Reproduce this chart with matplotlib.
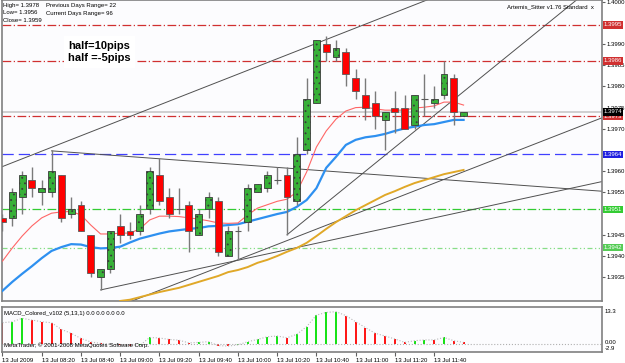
import matplotlib
matplotlib.use("Agg")
import matplotlib.pyplot as plt
import matplotlib.transforms as mtrans
import numpy as np

# EURUSD M5, 13 Jul 2009 08:00 - 11:55
opens = [1.3949, 1.3949, 1.3954, 1.3958, 1.3955, 1.3955, 1.3959, 1.3950, 1.3952, 1.3945,
         1.3935, 1.3937, 1.3947, 1.3946, 1.3946, 1.3951, 1.3959, 1.3954, 1.3951, 1.3952,
         1.3945, 1.3951, 1.3953, 1.3940, 1.3946, 1.3948, 1.3955, 1.3956, 1.3958, 1.3959,
         1.3953, 1.3965, 1.3976, 1.3990, 1.3987, 1.3988, 1.3982, 1.3978, 1.3976, 1.3972,
         1.3975, 1.3975, 1.3971, 1.3977, 1.3976, 1.3978, 1.3982, 1.3973]
highs = [1.3950, 1.3956, 1.3960, 1.3961, 1.3958, 1.3965, 1.3959, 1.3954, 1.3953, 1.3945,
         1.3937, 1.3946, 1.3950, 1.3948, 1.3952, 1.3961, 1.3963, 1.3956, 1.3956, 1.3953,
         1.3951, 1.3955, 1.3954, 1.3947, 1.3947, 1.3957, 1.3957, 1.3960, 1.3961, 1.3961,
         1.3968, 1.3982, 1.3991, 1.3992, 1.3991, 1.3989, 1.3984, 1.3982, 1.3979, 1.3974,
         1.3979, 1.3978, 1.3978, 1.3983, 1.3980, 1.3986, 1.3983, 1.3974]
lows = [1.3946, 1.3947, 1.3950, 1.3954, 1.3952, 1.3954, 1.3948, 1.3949, 1.3946, 1.3935,
        1.3932, 1.3936, 1.3943, 1.3944, 1.3945, 1.3950, 1.3952, 1.3949, 1.3950, 1.3941,
        1.3945, 1.3949, 1.3940, 1.3940, 1.3939, 1.3946, 1.3955, 1.3955, 1.3957, 1.3945,
        1.3952, 1.3964, 1.3976, 1.3986, 1.3986, 1.3980, 1.3977, 1.3972, 1.3970, 1.3965,
        1.3969, 1.3970, 1.3970, 1.3973, 1.3975, 1.3977, 1.3971, 1.3973]
closes = [1.3948, 1.3955, 1.3959, 1.3956, 1.3956, 1.3960, 1.3949, 1.3951, 1.3946, 1.3936,
          1.3937, 1.3946, 1.3945, 1.3945, 1.3950, 1.3960, 1.3953, 1.3950, 1.3951, 1.3946,
          1.3950, 1.3954, 1.3941, 1.3946, 1.3946, 1.3956, 1.3957, 1.3959, 1.3958, 1.3954,
          1.3964, 1.3977, 1.3991, 1.3988, 1.3989, 1.3983, 1.3979, 1.3975, 1.3973, 1.3974,
          1.3974, 1.3970, 1.3978, 1.3977, 1.3977, 1.3983, 1.3974, 1.3974]

# moving averages as drawn on the chart
ma_red = [1.39388, 1.39419, 1.39447, 1.39471, 1.39490, 1.39501, 1.39504, 1.39505, 1.39497, 1.39473,
          1.39452, 1.39452, 1.39454, 1.39454, 1.39464, 1.39485, 1.39494, 1.39494, 1.39493, 1.39490,
          1.39487, 1.39483, 1.39478, 1.39477, 1.39478, 1.39497, 1.39513, 1.39521, 1.39529, 1.39534,
          1.39551, 1.39598, 1.39657, 1.39695, 1.39723, 1.39742, 1.39750, 1.39751, 1.39747, 1.39744,
          1.39744, 1.39744, 1.39749, 1.39751, 1.39754, 1.39763, 1.39763, 1.39756]
ma_blue = [1.39318, 1.39339, 1.39358, 1.39376, 1.39395, 1.39412, 1.39421, 1.39428, 1.39427, 1.39421,
           1.39418, 1.39419, 1.39422, 1.39432, 1.39441, 1.39447, 1.39453, 1.39458, 1.39461, 1.39464,
           1.39466, 1.39470, 1.39471, 1.39473, 1.39475, 1.39481, 1.39487, 1.39493, 1.39499, 1.39504,
           1.39516, 1.39532, 1.39560, 1.39608, 1.39634, 1.39662, 1.39674, 1.39680, 1.39683, 1.39688,
           1.39695, 1.39701, 1.39705, 1.39709, 1.39711, 1.39716, 1.39721, 1.39721]
ma_orange = [np.nan] * 12 + [
             1.39294, 1.39297, 1.39303, 1.39309, 1.39315, 1.39320, 1.39325, 1.39332,
             1.39339, 1.39346, 1.39353, 1.39362, 1.39367, 1.39374, 1.39384, 1.39391, 1.39400, 1.39410,
             1.39419, 1.39431, 1.39447, 1.39464, 1.39480, 1.39494, 1.39508, 1.39520, 1.39532, 1.39544,
             1.39553, 1.39563, 1.39572, 1.39579, 1.39586, 1.39593, 1.39598, 1.39603]

macd_hist = [8.8, 9.2, 10.6, 9.9, 9.2, 8.8, 6.1, 4.5, 2.4, 1.0,
             0.4, 0.2, -0.3, -0.6, -0.4, 2.8, 2.6, 2.0, 1.7, 0.6,
             0.8, 1.1, -0.5, -0.7, -0.2, 1.1, 2.0, 3.1, 3.4, 2.7,
             4.1, 7.2, 11.9, 13.0, 13.3, 11.7, 9.2, 6.8, 4.5, 3.4,
             2.2, 0.8, 1.5, 1.8, 1.8, 2.8, 1.5, 0.8]

label_bars = [0, 4, 8, 12, 16, 20, 24, 28, 32, 36, 40, 44]
time_labels = ["13 Jul 2009", "13 Jul 08:20", "13 Jul 08:40", "13 Jul 09:00", "13 Jul 09:20",
               "13 Jul 09:40", "13 Jul 10:00", "13 Jul 10:20", "13 Jul 10:40", "13 Jul 11:00",
               "13 Jul 11:20", "13 Jul 11:40"]

# price scale labels that are not hidden behind level boxes
price_ticks = [1.4000, 1.3990, 1.3985, 1.3980, 1.3975, 1.3970, 1.3960, 1.3955,
               1.3945, 1.3940, 1.3935]

# horizontal levels
level_prices = [1.39945, 1.3986, 1.3973, 1.3964, 1.3951, 1.3942]
level_texts = ["1.3995", "1.3986", "1.3973", "1.3964", "1.3951", "1.3942"]
bid_price = 1.3974

# trend lines: (bar, price) anchors
trend_a = [(0, 1.39611), (38, 1.39956)]
trend_b = [(29, 1.3945), (46, 1.39769)]
trend_c = [(5, 1.39648), (61, 1.39553)]
trend_d = [(10, 1.39320), (24, 1.39390)]
trend_e = [(13, 1.39292), (61, 1.39725)]

W, H = 625, 363
plt.rcParams['font.family'] = ['Liberation Sans', 'DejaVu Sans']
plt.rcParams['hatch.color'] = "#c8f5c8"
plt.rcParams['hatch.linewidth'] = 0.6
fig = plt.figure(figsize=(W / 100, H / 100), dpi=100)
fig.patch.set_facecolor("white")

def frac(x0, y0, x1, y1):
    return [x0 / W, 1 - y1 / H, (x1 - x0) / W, (y1 - y0) / H]

ax = fig.add_axes(frac(2, 0, 602, 301))
mx = fig.add_axes(frac(2, 307, 602, 352))
for a in (ax, mx):
    a.set_facecolor("#fcfcfe")
    for s in a.spines.values():
        s.set_color("#808080")
        s.set_linewidth(1.2)

xmin, xmax = -0.05, 61.11
ax.set_xlim(xmin, xmax)
ax.set_ylim(1.392939, 1.400038)
mx.set_xlim(xmin, xmax)
mx.set_ylim(-3.1, 15.2)

n = len(opens)
x = np.arange(n)
o = np.array(opens); c = np.array(closes)
hi = np.array(highs); lo = np.array(lows)

# horizontal levels
lvl_col = ["#d03030", "#d03030", "#d03030", "#4040ff", "#33cc33", "#88dd88"]
lvl_ls = [(0, (7, 2, 1, 2)), (0, (7, 2, 1, 2)), (0, (7, 2, 1, 2)), (0, (9, 4)),
          (0, (7, 2, 1, 2)), (0, (4, 2, 1, 2, 1, 2))]
ax.axhline(bid_price, color="#c8c8c8", lw=1.2, zorder=1)
for p, col, ls in zip(level_prices, lvl_col, lvl_ls):
    ax.axhline(p, color=col, lw=0.9, ls=ls, zorder=1)

# trend lines
def draw_trend(pts, left=False):
    (x0, y0), (x1, y1) = pts
    k = (y1 - y0) / (x1 - x0)
    xs = np.array([xmin if left else x0, xmax])
    ax.plot(xs, y0 + k * (xs - x0), color="#505050", lw=0.7, zorder=2)

draw_trend(trend_a, left=True)
draw_trend(trend_b)
draw_trend(trend_c)
draw_trend(trend_d)
draw_trend(trend_e, left=True)

# moving averages
ax.plot(x, ma_orange, color="#e0a828", lw=1.4, zorder=3)
ax.plot(x, ma_blue, color="#2e90f0", lw=1.6, zorder=3)
ax.plot(x, ma_red, color="#ff6666", lw=0.8, zorder=3)

# candles
ax.vlines(x, lo, hi, color="#7a7a7a", lw=1.0, zorder=4)
up = c > o
dn = c < o
dj = c == o
ax.bar(x[up], (c - o)[up], bottom=o[up], width=0.7, color="#38b038",
       edgecolor="#3a3a3a", lw=0.6, hatch="...", zorder=5)
ax.bar(x[dn], (o - c)[dn], bottom=c[dn], width=0.7, color="#ff0000",
       edgecolor="#5a5a5a", lw=0.6, zorder=5)
ax.hlines(o[dj], x[dj] - 0.35, x[dj] + 0.35, color="#5a5a5a", lw=0.8, zorder=5)

# price axis on the right
ax.yaxis.tick_right()
ax.set_yticks(price_ticks)
ax.yaxis.set_major_formatter(matplotlib.ticker.FormatStrFormatter("%.4f"))
ax.tick_params(axis="y", labelsize=4.3, length=2, pad=1, color="#606060")
ax.set_xticks([])

# labels for the levels
tr = mtrans.blended_transform_factory(ax.transAxes, ax.transData)
for p, t, col in zip(level_prices + [bid_price], level_texts + ["1.3974"],
                     ["#d03030", "#d03030", "#d03030", "#2020e0", "#33cc33", "#55cc55", "#000000"]):
    ax.text(1.003, p, t, transform=tr, ha="left", va="center", fontsize=4.3,
            color="white", clip_on=False, zorder=10,
            bbox=dict(boxstyle="square,pad=0.2", fc=col, ec="none"))

# header texts
fs = 4.3
fig.text(3 / W, 1 - 5 / H, "High= 1.3978", fontsize=fs, va="center")
fig.text(3 / W, 1 - 13 / H, "Low= 1.3956", fontsize=fs, va="center")
fig.text(3 / W, 1 - 21 / H, "Close= 1.3959", fontsize=fs, va="center")
fig.text(46 / W, 1 - 5 / H, "Previous Days Range= 22", fontsize=fs, va="center")
fig.text(46 / W, 1 - 13 / H, "Current Days Range= 96", fontsize=fs, va="center")
fig.text(594 / W, 1 - 7 / H, "Artemis_Sitter v1.76 Standard  x", fontsize=fs,
         va="center", ha="right")
fig.text(68 / W, 1 - 52 / H, "half=10pips\nhalf =-5pips", fontsize=8, fontweight="bold",
         va="center", linespacing=1.3,
         bbox=dict(boxstyle="square,pad=0.4", fc="white", ec="none"))

# MACD window
cols = ["#00e000" if i > 0 and macd_hist[i] > macd_hist[i - 1] else "#ff0000" for i in range(n)]
mx.vlines(x, 0, macd_hist, colors=cols, lw=1.3)
mx.plot(x, macd_hist, ls=":", color="#b8b8b8", lw=0.8)
mx.axhline(0, ls=":", color="#b0b0b0", lw=0.8)
mx.set_yticks([])
mx.set_xticks(label_bars)
mx.set_xticklabels(time_labels, fontsize=4.3, ha="left")
mx.tick_params(axis="x", length=3, pad=1.5, color="#606060")
mx.text(0.004, 0.86, "MACD_Colored_v102 (5,13,1) 0.0 0.0 0.0 0.0", transform=mx.transAxes,
        fontsize=fs, va="center")
mx.text(0.004, 0.15, "MetaTrader, \u00a9 2001-2008 MetaQuotes Software Corp.", transform=mx.transAxes,
        fontsize=fs, va="center")
trm = mtrans.blended_transform_factory(mx.transAxes, mx.transData)
mx.text(1.005, 13.3, "13.3", transform=trm, fontsize=fs, va="center", clip_on=False)
mx.text(1.005, 0.6, "0.00", transform=trm, fontsize=fs, va="center", clip_on=False)
mx.text(1.005, -1.5, "-2.9", transform=trm, fontsize=fs, va="center", clip_on=False)

fig.savefig("out.png", dpi=100)
